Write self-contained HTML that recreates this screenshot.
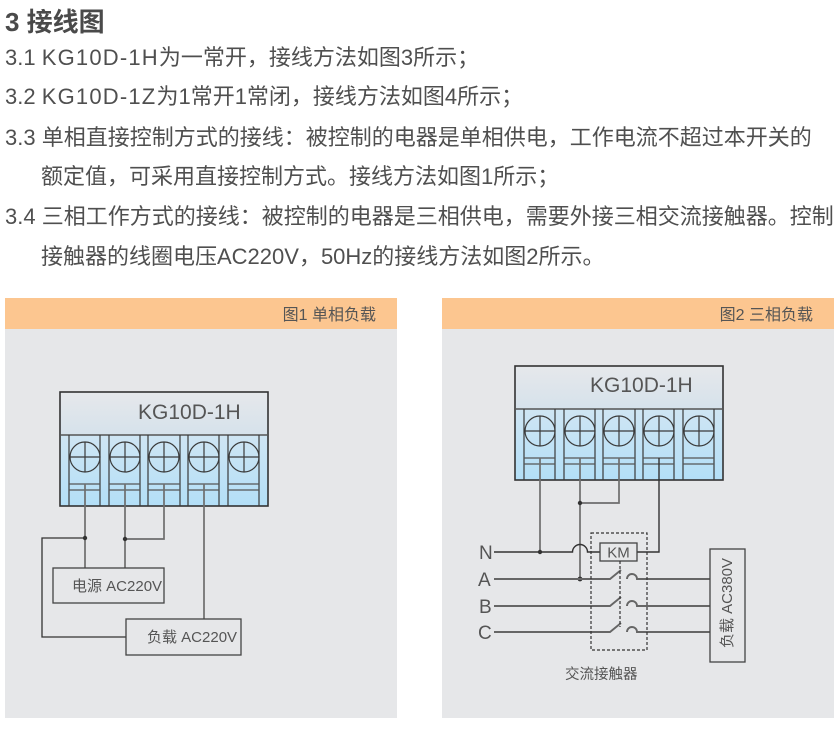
<!DOCTYPE html>
<html>
<head>
<meta charset="utf-8">
<style>
html,body{margin:0;padding:0;background:#fff;}
body{width:840px;height:730px;position:relative;overflow:hidden;font-family:"Liberation Sans","Noto Sans CJK SC",sans-serif;color:#4f4f4f;}
.t{position:absolute;white-space:nowrap;font-size:22px;line-height:22px;}
.h{position:absolute;left:5px;top:9px;font-size:26px;line-height:26px;font-weight:bold;color:#4a4a4a;white-space:nowrap;}
.ls{letter-spacing:1.2px;}
svg{position:absolute;left:0;top:0;}
</style>
</head>
<body>
<div class="h">3 接线图</div>
<div class="t" style="left:5px;top:47px;">3.1 <span class="ls">KG10D-1H</span>为一常开，接线方法如图3所示；</div>
<div class="t" style="left:5px;top:86px;">3.2 <span class="ls">KG10D-1Z</span>为1常开1常闭，接线方法如图4所示；</div>
<div class="t" style="left:5px;top:127px;">3.3 单相直接控制方式的接线：被控制的电器是单相供电，工作电流不超过本开关的</div>
<div class="t" style="left:41px;top:166px;">额定值，可采用直接控制方式。接线方法如图1所示；</div>
<div class="t" style="left:5px;top:206px;">3.4 三相工作方式的接线：被控制的电器是三相供电，需要外接三相交流接触器。控制</div>
<div class="t" style="left:41px;top:246px;">接触器的线圈电压AC220V，50Hz的接线方法如图2所示。</div>

<svg width="840" height="730" viewBox="0 0 840 730" xmlns="http://www.w3.org/2000/svg" font-family="Liberation Sans, Noto Sans CJK SC, sans-serif">
<defs>
<linearGradient id="gb" x1="0" y1="0" x2="0" y2="1">
<stop offset="0" stop-color="#e6e8eb"/>
<stop offset="0.37" stop-color="#d6e2eb"/>
<stop offset="0.38" stop-color="#cfe5f3"/>
<stop offset="1" stop-color="#b3dff7"/>
</linearGradient>
<g id="tb">
<rect x="60" y="392" width="208" height="114" fill="url(#gb)" stroke="#333" stroke-width="1.6"/>
<line x1="60" y1="435" x2="268" y2="435" stroke="#555" stroke-width="1.4"/>
<g stroke="#3a3a3a" stroke-width="1.2" fill="none">
<line x1="69" y1="435" x2="69" y2="506"/><line x1="100" y1="435" x2="100" y2="506"/>
<line x1="109" y1="435" x2="109" y2="506"/><line x1="140" y1="435" x2="140" y2="506"/>
<line x1="148" y1="435" x2="148" y2="506"/><line x1="180" y1="435" x2="180" y2="506"/>
<line x1="188" y1="435" x2="188" y2="506"/><line x1="219" y1="435" x2="219" y2="506"/>
<line x1="228" y1="435" x2="228" y2="506"/><line x1="259" y1="435" x2="259" y2="506"/>
<circle cx="85" cy="457" r="15"/><circle cx="125" cy="457" r="15"/><circle cx="164" cy="457" r="15"/><circle cx="204" cy="457" r="15"/><circle cx="244" cy="457" r="15"/>
<path d="M70 457H100M85 442V472M110 457H140M125 442V472M149 457H179M164 442V472M189 457H219M204 442V472M229 457H259M244 442V472"/>
</g>
<g stroke="#555" stroke-width="1.2">
<path d="M69 484H100M69 490H100M109 484H140M109 490H140M148 484H180M148 490H180M188 484H219M188 490H219M228 484H259M228 490H259"/>
</g>
</g>
</defs>

<!-- Panel 1 -->
<rect x="5" y="298" width="392" height="31" fill="#fcc690"/>
<rect x="5" y="329" width="392" height="389" fill="#e6e7e9"/>
<text x="376" y="320" font-size="16" fill="#555" text-anchor="end">图1 单相负载</text>
<use href="#tb"/>
<text x="138" y="419" font-size="21" fill="#555">KG10D-1H</text>
<g fill="none" stroke="#6e6e6e" stroke-width="1.7">
<path d="M85 484V568"/>
<path d="M125 484V568"/>
<path d="M164 484V539H125"/>
<path d="M204 484V619"/>
</g>
<path d="M85 538H42V637H126" fill="none" stroke="#333" stroke-width="1.3"/>
<circle cx="85" cy="538" r="2.2" fill="#333"/>
<circle cx="125" cy="539" r="2.2" fill="#333"/>
<rect x="53" y="568" width="111" height="35" fill="none" stroke="#444" stroke-width="1.3"/>
<text x="72" y="591" font-size="15" fill="#555">电源 AC220V</text>
<rect x="126" y="619" width="115" height="36" fill="none" stroke="#444" stroke-width="1.3"/>
<text x="147" y="642" font-size="15" fill="#555">负载 AC220V</text>

<!-- Panel 2 -->
<rect x="442" y="298" width="392" height="31" fill="#fcc690"/>
<rect x="442" y="329" width="392" height="389" fill="#e6e7e9"/>
<text x="813" y="320" font-size="16" fill="#555" text-anchor="end">图2 三相负载</text>
<use href="#tb" transform="translate(455,-26)"/>
<text x="590" y="392" font-size="21" fill="#555">KG10D-1H</text>
<g fill="none" stroke="#6e6e6e" stroke-width="1.7">
<path d="M540 458V552"/>
<path d="M580 458V579"/>
<path d="M619 458V503H580"/>
</g>
<path d="M659 458V552H637" fill="none" stroke="#333" stroke-width="1.4"/>
<circle cx="540" cy="552" r="2.2" fill="#333"/>
<circle cx="580" cy="503" r="2.2" fill="#333"/>
<circle cx="580" cy="579" r="2.4" fill="#333"/>
<!-- N line -->
<path d="M494 552H572.5A7.5 7.5 0 0 1 587.5 552H600" fill="none" stroke="#333" stroke-width="1.4"/>
<rect x="600" y="543" width="37" height="18" fill="none" stroke="#444" stroke-width="1.3"/>
<text x="618.5" y="557.5" font-size="15" fill="#555" text-anchor="middle">KM</text>
<!-- A B C -->
<g fill="none" stroke="#666" stroke-width="1.9">
<path d="M494 579H610L621 570M627 579A5 5 0 0 1 637 579H710"/>
<path d="M494 606H610L621 597M627 606A5 5 0 0 1 637 606H710"/>
<path d="M494 632H610L621 623M627 632A5 5 0 0 1 637 632H710"/>
</g>
<path d="M620 561V627" stroke="#333" stroke-width="1.2" stroke-dasharray="3,2"/>
<rect x="591" y="533" width="56" height="117" fill="none" stroke="#333" stroke-width="1.2" stroke-dasharray="3,2"/>
<rect x="710" y="549" width="35" height="113" fill="none" stroke="#444" stroke-width="1.3"/>
<text transform="translate(732,603) rotate(-90)" font-size="15" fill="#555" text-anchor="middle">负载 AC380V</text>
<g font-size="19" fill="#555">
<text x="479" y="559">N</text>
<text x="478" y="586">A</text>
<text x="479" y="613">B</text>
<text x="478" y="639">C</text>
</g>
<text x="565" y="679" font-size="14.5" fill="#555">交流接触器</text>
</svg>
</body>
</html>
